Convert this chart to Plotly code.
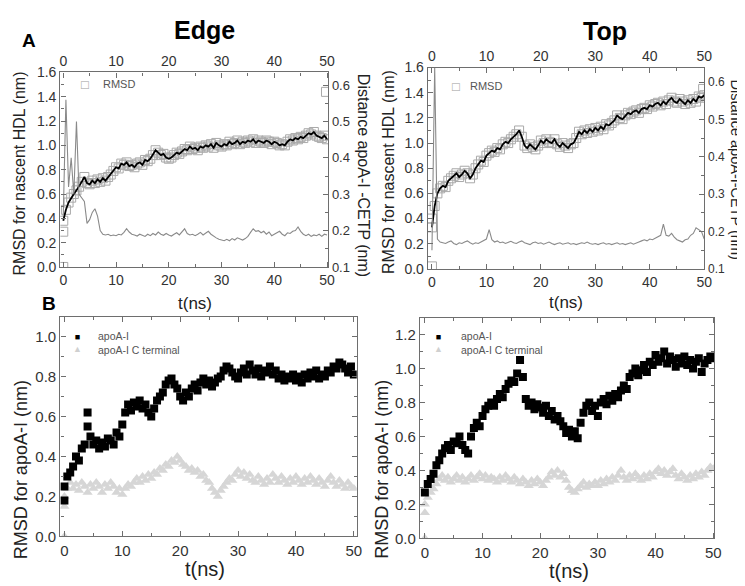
import plotly.graph_objects as go

W, H = 745, 586

time_ns = [
    0, 0.5, 1, 1.5, 2, 2.5, 3, 3.5, 4, 4.5,
    5, 5.5, 6, 6.5, 7, 7.5, 8, 8.5, 9, 9.5,
    10, 10.5, 11, 11.5, 12, 12.5, 13, 13.5, 14, 14.5,
    15, 15.5, 16, 16.5, 17, 17.5, 18, 18.5, 19, 19.5,
    20, 20.5, 21, 21.5, 22, 22.5, 23, 23.5, 24, 24.5,
    25, 25.5, 26, 26.5, 27, 27.5, 28, 28.5, 29, 29.5,
    30, 30.5, 31, 31.5, 32, 32.5, 33, 33.5, 34, 34.5,
    35, 35.5, 36, 36.5, 37, 37.5, 38, 38.5, 39, 39.5,
    40, 40.5, 41, 41.5, 42, 42.5, 43, 43.5, 44, 44.5,
    45, 45.5, 46, 46.5, 47, 47.5, 48, 48.5, 49, 49.5,
    50]

# ---- Panel A, Edge ----
rmsd_hdl_edge = [
    0.38, 0.47, 0.53, 0.57, 0.60, 0.63, 0.66, 0.70, 0.74, 0.69,
    0.68, 0.71, 0.69, 0.72, 0.70, 0.73, 0.71, 0.74, 0.76, 0.79,
    0.82, 0.81, 0.85, 0.84, 0.86, 0.83, 0.84, 0.82, 0.85, 0.86,
    0.84, 0.88, 0.87, 0.89, 0.92, 0.96, 0.94, 0.92, 0.93, 0.90,
    0.89, 0.90, 0.92, 0.94, 0.93, 0.95, 0.97, 0.96, 0.99, 0.97,
    0.98, 0.96, 0.99, 0.98, 1.00, 0.99, 1.01, 0.98, 1.02, 1.00,
    0.99, 1.01, 1.00, 1.03, 1.01, 1.02, 1.04, 1.01, 1.03, 1.02,
    1.04, 1.03, 1.05, 1.02, 1.04, 1.03, 1.02, 1.04, 1.03, 1.01,
    1.03, 1.02, 1.00, 1.01, 1.00, 1.03, 1.05, 1.04, 1.06, 1.05,
    1.07, 1.06, 1.08, 1.10, 1.09, 1.11, 1.08, 1.07, 1.06, 1.08,
    1.05]
rmsd_edge_extra_t = [0, 0, 49.8]
rmsd_edge_extra = [0.0, 0.29, 1.44]
dist_edge = [
    0.24, 0.56, 0.32, 0.40, 0.30, 0.50, 0.30, 0.29, 0.28, 0.22,
    0.23, 0.25, 0.26, 0.24, 0.20, 0.19, 0.188, 0.19, 0.186, 0.188,
    0.186, 0.19, 0.188, 0.195, 0.205, 0.196, 0.19, 0.188, 0.185, 0.19,
    0.186, 0.184, 0.19, 0.186, 0.192, 0.188, 0.196, 0.19, 0.187, 0.192,
    0.188, 0.185, 0.19, 0.194, 0.188, 0.196, 0.205, 0.192, 0.188, 0.19,
    0.186, 0.19, 0.195, 0.188, 0.192, 0.198, 0.19, 0.184, 0.18, 0.176,
    0.174, 0.172, 0.176, 0.172, 0.178, 0.174, 0.18, 0.176, 0.174, 0.178,
    0.184, 0.195, 0.205, 0.198, 0.2, 0.194, 0.198, 0.19, 0.196, 0.186,
    0.19, 0.195, 0.198, 0.19, 0.186, 0.194, 0.192, 0.198, 0.2, 0.21,
    0.198, 0.19, 0.186, 0.19, 0.184, 0.188, 0.186, 0.19, 0.184, 0.19,
    0.188]

# ---- Panel A, Top ----
rmsd_hdl_top = [
    0.33, 0.50, 0.60, 0.64, 0.66, 0.65, 0.70, 0.72, 0.74, 0.76,
    0.73, 0.75, 0.78, 0.76, 0.72, 0.75, 0.80, 0.83, 0.86, 0.85,
    0.90, 0.92, 0.94, 0.93, 0.96, 0.95, 0.99, 1.01, 1.00, 1.03,
    1.05, 1.07, 1.10, 1.05, 0.98, 0.96, 0.99, 0.97, 0.95, 0.98,
    1.02, 1.00, 1.03, 1.01, 1.00, 1.03, 0.99, 0.97, 1.00, 0.98,
    0.96, 0.99, 1.00, 1.04, 1.09, 1.07, 1.10, 1.08, 1.11, 1.09,
    1.12, 1.10, 1.13, 1.11, 1.15, 1.14, 1.16, 1.18, 1.22, 1.20,
    1.19, 1.22, 1.24, 1.23, 1.25, 1.26, 1.24, 1.27, 1.28, 1.27,
    1.30, 1.29, 1.31, 1.32, 1.30, 1.33, 1.31, 1.34, 1.36, 1.33,
    1.32, 1.35, 1.33, 1.31, 1.34, 1.32, 1.35, 1.33, 1.37, 1.36,
    1.38]
rmsd_top_extra_t = [0, 0, 49.8]
rmsd_top_extra = [0.02, 0.40, 1.43]
dist_top = [
    0.15, 0.64, 0.18, 0.172, 0.17, 0.168, 0.172, 0.175, 0.168, 0.165,
    0.17, 0.168, 0.172, 0.175, 0.17, 0.166, 0.17, 0.168, 0.172, 0.175,
    0.18, 0.205, 0.178, 0.172, 0.175, 0.17, 0.172, 0.168, 0.17, 0.174,
    0.17, 0.168, 0.172, 0.175, 0.17, 0.168, 0.165, 0.17, 0.172, 0.168,
    0.17, 0.166, 0.168, 0.172, 0.168, 0.165, 0.168, 0.17, 0.166, 0.168,
    0.17, 0.166, 0.168, 0.165, 0.168, 0.17, 0.168, 0.172, 0.168, 0.166,
    0.168, 0.165, 0.168, 0.17, 0.166, 0.168, 0.165, 0.168, 0.17, 0.166,
    0.168, 0.165, 0.168, 0.17, 0.166, 0.168, 0.172, 0.175, 0.178, 0.175,
    0.18, 0.178, 0.182, 0.185, 0.19, 0.22, 0.19, 0.188, 0.195, 0.185,
    0.178, 0.175, 0.172, 0.178, 0.18, 0.19, 0.195, 0.21, 0.205, 0.2,
    0.18]

# ---- Panel B, Edge ----
apoa1_edge = [
    0.25, 0.30, 0.32, 0.35, 0.40, 0.38, 0.44, 0.46, 0.55, 0.50,
    0.46, 0.48, 0.44, 0.47, 0.45, 0.49, 0.48, 0.46, 0.52, 0.50,
    0.56, 0.62, 0.66, 0.63, 0.67, 0.65, 0.68, 0.64, 0.66, 0.62,
    0.60, 0.64, 0.68, 0.70, 0.72, 0.76, 0.78, 0.79, 0.76, 0.74,
    0.70, 0.68, 0.72, 0.70, 0.74, 0.76, 0.73, 0.77, 0.79, 0.76,
    0.78, 0.75, 0.77, 0.79, 0.80, 0.83, 0.85, 0.84, 0.82, 0.80,
    0.79, 0.82, 0.84, 0.81, 0.86, 0.83, 0.81, 0.84, 0.80, 0.83,
    0.82, 0.85, 0.81, 0.83, 0.79, 0.81, 0.78, 0.80, 0.79, 0.81,
    0.78, 0.80, 0.77, 0.81, 0.79, 0.82, 0.80, 0.83, 0.79, 0.81,
    0.80, 0.83, 0.82, 0.85, 0.84, 0.87, 0.86, 0.84, 0.82, 0.85,
    0.81]
apoa1_edge_extra_t = [0, 4]
apoa1_edge_extra = [0.18, 0.62]
cterm_edge = [
    0.20, 0.24, 0.27, 0.24, 0.26, 0.23, 0.27, 0.25, 0.22, 0.26,
    0.24, 0.27, 0.25, 0.22, 0.26, 0.24, 0.27, 0.25, 0.22, 0.24,
    0.21, 0.24, 0.26, 0.25, 0.27, 0.29, 0.27, 0.30, 0.28, 0.31,
    0.29, 0.32, 0.31, 0.34, 0.33, 0.36, 0.35, 0.38, 0.37, 0.40,
    0.38, 0.36, 0.35, 0.33, 0.34, 0.32, 0.33, 0.30, 0.31, 0.28,
    0.27, 0.24, 0.22, 0.20, 0.23, 0.25, 0.27, 0.29, 0.28, 0.31,
    0.33, 0.30, 0.32, 0.29, 0.31, 0.28, 0.27, 0.30, 0.28, 0.26,
    0.29, 0.27, 0.31, 0.29, 0.27, 0.30, 0.28, 0.26, 0.29, 0.27,
    0.30, 0.28, 0.26, 0.29, 0.27, 0.30, 0.28, 0.26, 0.29, 0.27,
    0.25, 0.28, 0.30, 0.27, 0.25, 0.28, 0.26, 0.24, 0.27, 0.25,
    0.24]
cterm_edge_extra_t = [0, 0]
cterm_edge_extra = [0.0, 0.15]

# ---- Panel B, Top ----
apoa1_top = [
    0.27, 0.32, 0.35, 0.38, 0.43, 0.46, 0.50, 0.53, 0.55, 0.52,
    0.57, 0.56, 0.60, 0.55, 0.52, 0.50, 0.60, 0.65, 0.68, 0.66,
    0.72, 0.76, 0.78, 0.80, 0.78, 0.82, 0.85, 0.83, 0.88, 0.91,
    0.93, 0.92, 0.97, 1.05, 0.95, 0.82, 0.78, 0.80, 0.76, 0.79,
    0.77, 0.74, 0.78, 0.72, 0.75, 0.70, 0.72, 0.69, 0.66, 0.62,
    0.64, 0.60, 0.63, 0.59, 0.68, 0.74, 0.78, 0.80, 0.75, 0.78,
    0.72, 0.80, 0.82, 0.79, 0.84, 0.81, 0.85, 0.83, 0.87, 0.90,
    0.88, 0.95, 0.97, 1.00, 0.96, 0.99, 1.02, 0.98, 1.04, 1.02,
    1.08, 1.04, 1.06, 1.10, 1.03, 1.07, 1.05, 1.01, 1.06, 1.03,
    1.07, 1.02, 1.05, 1.00, 1.04, 1.06, 0.98, 1.03, 1.05, 1.07,
    1.06]
cterm_top = [
    0.20, 0.24, 0.27, 0.29, 0.32, 0.35, 0.37, 0.34, 0.36, 0.33,
    0.35, 0.37, 0.34, 0.36, 0.33, 0.35, 0.37, 0.34, 0.36, 0.38,
    0.35, 0.37, 0.34, 0.36, 0.35, 0.33, 0.36, 0.34, 0.37, 0.35,
    0.33, 0.36, 0.34, 0.32, 0.35, 0.33, 0.31, 0.34, 0.32, 0.35,
    0.33, 0.31, 0.34, 0.36, 0.39, 0.37, 0.40, 0.36, 0.38, 0.34,
    0.30, 0.28, 0.27, 0.29, 0.31, 0.33, 0.30, 0.32, 0.31, 0.33,
    0.31, 0.34, 0.32, 0.35, 0.33, 0.36, 0.34, 0.37, 0.40, 0.36,
    0.34, 0.37, 0.35, 0.38, 0.36, 0.34, 0.37, 0.35, 0.38, 0.36,
    0.39, 0.41, 0.38, 0.40, 0.37, 0.39, 0.41, 0.37, 0.35, 0.38,
    0.36, 0.34, 0.37, 0.35, 0.38, 0.36, 0.39, 0.37, 0.40, 0.42,
    0.41]
cterm_top_extra_t = [0, 0]
cterm_top_extra = [0.0, 0.15]

x_ticks = [0, 10, 20, 30, 40, 50]

FONT = "Liberation Sans, Arial, sans-serif"
AX = "#6e6e6e"
TXT = "#333333"


def px(x, y):
    return x / W, 1 - y / H


def dom_x(a, b):
    return [a / W, b / W]


def dom_y(top, bottom):
    return [1 - bottom / H, 1 - top / H]


SQ = dict(symbol="square-open", size=9, color="#a9a9a9", line=dict(width=1, color="#a9a9a9"))

fig = go.Figure()

# Panel A Edge
fig.add_trace(go.Scatter(x=time_ns, y=rmsd_hdl_edge, mode="markers", marker=SQ, xaxis="x", yaxis="y", showlegend=False))
fig.add_trace(go.Scatter(x=rmsd_edge_extra_t, y=rmsd_edge_extra, mode="markers", marker=SQ, xaxis="x", yaxis="y", showlegend=False))
fig.add_trace(go.Scatter(x=time_ns, y=rmsd_hdl_edge, mode="lines", line=dict(color="black", width=1.8), xaxis="x", yaxis="y", showlegend=False))
fig.add_trace(go.Scatter(x=time_ns, y=dist_edge, mode="lines", line=dict(color="#8a8a8a", width=1.1), xaxis="x2", yaxis="y2", showlegend=False))

# Panel A Top
fig.add_trace(go.Scatter(x=time_ns, y=rmsd_hdl_top, mode="markers", marker=SQ, xaxis="x3", yaxis="y3", showlegend=False))
fig.add_trace(go.Scatter(x=rmsd_top_extra_t, y=rmsd_top_extra, mode="markers", marker=SQ, xaxis="x3", yaxis="y3", showlegend=False))
fig.add_trace(go.Scatter(x=time_ns, y=rmsd_hdl_top, mode="lines", line=dict(color="black", width=1.8), xaxis="x3", yaxis="y3", showlegend=False))
fig.add_trace(go.Scatter(x=time_ns, y=dist_top, mode="lines", line=dict(color="#8a8a8a", width=1.1), xaxis="x4", yaxis="y4", showlegend=False))

BLK = dict(symbol="square", size=8, color="black")
GRY = dict(symbol="triangle-up", size=9, color="#d6d6d6")

# Panel B Edge
fig.add_trace(go.Scatter(x=time_ns, y=cterm_edge, mode="markers", marker=GRY, xaxis="x5", yaxis="y5", showlegend=False))
fig.add_trace(go.Scatter(x=cterm_edge_extra_t, y=cterm_edge_extra, mode="markers", marker=GRY, xaxis="x5", yaxis="y5", showlegend=False))
fig.add_trace(go.Scatter(x=time_ns, y=apoa1_edge, mode="markers", marker=BLK, xaxis="x5", yaxis="y5", showlegend=False))
fig.add_trace(go.Scatter(x=apoa1_edge_extra_t, y=apoa1_edge_extra, mode="markers", marker=BLK, xaxis="x5", yaxis="y5", showlegend=False))

# Panel B Top
fig.add_trace(go.Scatter(x=time_ns, y=cterm_top, mode="markers", marker=GRY, xaxis="x6", yaxis="y6", showlegend=False))
fig.add_trace(go.Scatter(x=cterm_top_extra_t, y=cterm_top_extra, mode="markers", marker=GRY, xaxis="x6", yaxis="y6", showlegend=False))
fig.add_trace(go.Scatter(x=time_ns, y=apoa1_top, mode="markers", marker=BLK, xaxis="x6", yaxis="y6", showlegend=False))


def axis(**kw):
    base = dict(showline=True, linecolor=AX, linewidth=1.4, ticks="inside", ticklen=5,
                tickcolor=AX, tickwidth=1, showgrid=False, zeroline=False,
                tickfont=dict(family=FONT, size=14, color=TXT))
    base.update(kw)
    return base


tfA = dict(family=FONT, size=14, color=TXT)
tfAr = dict(family=FONT, size=13, color=TXT)
tfAr2 = dict(family=FONT, size=12, color=TXT)
tfB = dict(family=FONT, size=15, color=TXT)


def mn(d):
    return dict(ticks="inside", ticklen=3, dtick=d, tickcolor=AX)


layout = dict(
    width=W, height=H, margin=dict(l=0, r=0, t=0, b=0),
    paper_bgcolor="white", plot_bgcolor="white", showlegend=False,
    # A Edge
    xaxis=axis(domain=dom_x(52, 323), range=[-0.55, 50.2], anchor="y", tickvals=x_ticks, minor=mn(5), tickfont=tfA),
    xaxis2=axis(range=[-0.55, 50.2], overlaying="x", side="top", anchor="y2", tickvals=x_ticks, minor=mn(5), tickfont=tfA),
    yaxis=axis(domain=dom_y(58, 258), range=[0, 1.6], anchor="x", dtick=0.2, tickformat=".1f", minor=mn(0.1), tickfont=tfA),
    yaxis2=axis(range=[0.1, 0.635], overlaying="y", side="right", anchor="x2", dtick=0.1, tickformat=".1f",
                minor=mn(0.05), tickfont=tfAr),
    # A Top
    xaxis3=axis(domain=dom_x(424, 704), range=[-0.75, 50.05], anchor="y3", tickvals=x_ticks, minor=mn(5), tickfont=tfA),
    xaxis4=axis(range=[-0.75, 50.05], overlaying="x3", side="top", anchor="y4", tickvals=x_ticks, minor=mn(5), tickfont=tfA),
    yaxis3=axis(domain=dom_y(53, 260), range=[0, 1.6], anchor="x3", dtick=0.2, tickformat=".1f", minor=mn(0.1), tickfont=tfA),
    yaxis4=axis(range=[0.1, 0.639], overlaying="y3", side="right", anchor="x4", dtick=0.1, tickformat=".1f",
                minor=mn(0.05), tickfont=tfAr2),
    # B Edge
    xaxis5=axis(domain=dom_x(52, 352), range=[-0.7, 50.5], anchor="y5", tickvals=x_ticks, mirror="ticks",
                minor=mn(5), tickfont=tfB),
    yaxis5=axis(domain=dom_y(309, 535), range=[0, 1.1], anchor="x5", dtick=0.2, tickformat=".1f", mirror="ticks",
                minor=mn(0.1), tickfont=tfB),
    # B Top
    xaxis6=axis(domain=dom_x(416, 714), range=[-0.85, 50.2], anchor="y6", tickvals=x_ticks, mirror="ticks",
                minor=mn(5), tickfont=tfB),
    yaxis6=axis(domain=dom_y(310, 537), range=[0, 1.3], anchor="x6", dtick=0.2, tickformat=".1f", mirror="ticks",
                minor=mn(0.1), tickfont=tfB),
)

annotations = []


def note(text, x, y, size, color="black", bold=False, angle=0, xanchor="center", align="center"):
    xx, yy = px(x, y)
    annotations.append(dict(text=("<b>%s</b>" % text) if bold else text, x=xx, y=yy, xref="paper", yref="paper",
                            showarrow=False, xanchor=xanchor, yanchor="middle", textangle=angle, align=align,
                            font=dict(family=FONT, size=size, color=color)))


note("A", 20, 25, 19, bold=True)
note("B", 40, 296, 19, bold=True)
note("Edge", 198, 14, 25, bold=True)
note("Top", 603, 15, 25, bold=True)

note("RMSD for nascent HDL (nm)", 11, 162, 16, color="#222", angle=-90)
note("Distance apoA-I -CETP (nm)", 359, 164, 16, color="#222", angle=90)
note("RMSD for nascent HDL (nm)", 384, 160, 16, color="#222", angle=-90)
note("Distance apoA-I-CETP (nm)", 736, 158, 14.5, color="#222", angle=90)
note("t(ns)", 188, 296, 17, color="#222")
note("t(ns)", 564, 295, 17, color="#222")

note("RMSD for apoA-I (nm)", 12, 466, 18, color="#222", angle=-90)
note("RMSD for apoA-I (nm)", 378, 466, 18, color="#222", angle=-90)
note("t(ns)", 198, 569, 20, color="#222")
note("t(ns)", 567, 571, 20, color="#222")

# legend keys
note("\u25a1", 77, 70, 13, color="#a0a0a0")
note("RMSD", 93, 70, 11, color="#555", xanchor="left")
note("\u25a1", 452, 72, 13, color="#a0a0a0")
note("RMSD", 465, 72, 11, color="#555", xanchor="left")

KEY = ("<span style='color:black'>\u25a0</span><br>"
       "<span style='color:#d0d0d0'>\u25b2</span>")
note(KEY, 69, 336.5, 9)
note("apoA-I<br>apoA-I C terminal", 88, 336.5, 10.5, color="#555", xanchor="left", align="left")
note(KEY, 435, 336.5, 9)
note("apoA-I<br>apoA-I C terminal", 455, 336.5, 10.5, color="#555", xanchor="left", align="left")

layout["annotations"] = annotations
fig.update_layout(**layout)
fig.write_html("out.html")
